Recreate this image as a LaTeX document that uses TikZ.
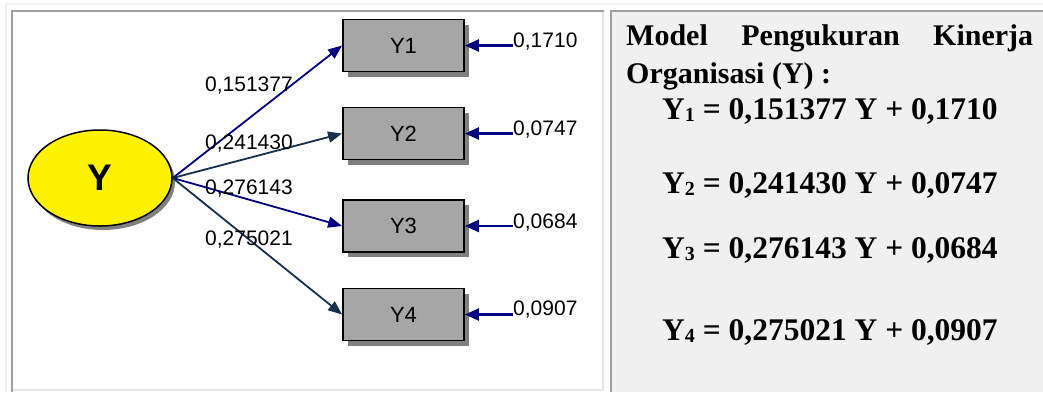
\documentclass[tikz,border=0pt]{standalone}
\usepackage{fontspec}
\setmainfont{Liberation Serif}
\setsansfont{Liberation Sans}
\usetikzlibrary{shadows,arrows.meta,shapes.geometric}
\definecolor{navy}{HTML}{000080}
\definecolor{slate}{HTML}{17304F}
\definecolor{cellgray}{HTML}{F0F0F0}
\definecolor{bordergray}{HTML}{A0A0A0}
\definecolor{lightb}{HTML}{E6E6E6}
\definecolor{boxgray}{HTML}{A6A6A6}
\definecolor{shadowgray}{HTML}{808080}
\tikzset{
  obsbox/.style={draw=black, line width=1.8pt, fill=boxgray, minimum width=121pt, minimum height=52pt, inner sep=0pt,
    font=\sffamily\fontsize{22}{22}\selectfont,
    drop shadow={shadow xshift=5pt, shadow yshift=-5pt, fill=shadowgray, opacity=1}},
  latent/.style={draw=black, line width=1.5pt, fill=yellow, ellipse, minimum width=144pt, minimum height=96pt, inner sep=0pt,
    font=\sffamily\bfseries\fontsize{37}{37}\selectfont,
    drop shadow={shadow xshift=3pt, shadow yshift=-4pt, fill=shadowgray, opacity=1}},
  loadarrow/.style={line width=1.8pt, -{Triangle[length=14pt,width=11pt]}},
  errarrow/.style={line width=2.3pt, navy, -{Triangle[length=14pt,width=12pt]}},
  coef/.style={font=\sffamily\fontsize{21}{21}\selectfont, anchor=base west, inner sep=0pt},
  errlab/.style={font=\sffamily\fontsize{21}{21}\selectfont, anchor=base west, inner sep=0pt},
  eqtext/.style={font=\bfseries\fontsize{31.5}{31.5}\selectfont, anchor=base west, inner sep=0pt},
  titletext/.style={font=\bfseries\fontsize{30}{30}\selectfont, anchor=base west, inner sep=0pt},
}
\newcommand{\subd}[1]{\raisebox{-2pt}{\fontsize{20}{20}\selectfont #1}}
\begin{document}
\begin{tikzpicture}[x=1pt,y=-1pt]
\useasboundingbox (0,0) rectangle (1043,392);
% outer background
\fill[white] (0,0) rectangle (1043,392);
\draw[cellgray, line width=2pt] (6,4) -- (1043,4);
\draw[cellgray, line width=2pt] (6,4) -- (6,392);
% left cell
\fill[white] (11,10) rectangle (604,392);
\draw[lightb, line width=2pt] (603,10) -- (603,390) -- (11,390);
\draw[bordergray, line width=2.5pt] (12,392) -- (12,11) -- (604,11);
% right cell
\fill[cellgray] (610,10) rectangle (1043,392);
\draw[bordergray, line width=2.5pt] (611,392) -- (611,11) -- (1043,11);

% latent
\node[latent] (Y) at (100,178) {Y};

% observed
\node[obsbox] (Y1) at (403.5,45.5) {Y1};
\node[obsbox] (Y2) at (403.5,133.5) {Y2};
\node[obsbox] (Y3) at (403.5,226) {Y3};
\node[obsbox] (Y4) at (403.5,314.5) {Y4};

% loadings
\draw[loadarrow, navy] (Y.east) -- (Y1.west);
\draw[loadarrow, slate] (Y.east) -- (Y2.west);
\draw[loadarrow, navy] (Y.east) -- (Y3.west);
\draw[loadarrow, slate] (Y.east) -- (Y4.west);

\node[coef] (c1) at (205,91) {0,151377};
\node[coef] (c2) at (205,149) {0,241430};
\node[coef] (c3) at (205,194) {0,276143};
\node[coef] (c4) at (205,245) {0,275021};

% errors
\coordinate (e1) at (513,45.5);
\coordinate (e2) at (513,133.5);
\coordinate (e3) at (513,226);
\coordinate (e4) at (513,314.5);
\draw[errarrow] (e1) -- (Y1.east);
\draw[errarrow] (e2) -- (Y2.east);
\draw[errarrow] (e3) -- (Y3.east);
\draw[errarrow] (e4) -- (Y4.east);
\node[errlab] (l1) at (513,47) {0,1710};
\node[errlab] (l2) at (513,135) {0,0747};
\node[errlab] (l3) at (513,228) {0,0684};
\node[errlab] (l4) at (513,315) {0,0907};

% right text
\node[titletext] (t1) at (626,45) {\makebox[407pt][l]{Model\hfill Pengukuran\hfill Kinerja}};
\node[titletext] (t2) at (626,83) {Organisasi (Y) :};
\node[eqtext] (q1) at (662,119) {Y\subd{1} = 0,151377 Y + 0,1710};
\node[eqtext] (q2) at (662,193) {Y\subd{2} = 0,241430 Y + 0,0747};
\node[eqtext] (q3) at (662,258) {Y\subd{3} = 0,276143 Y + 0,0684};
\node[eqtext] (q4) at (662,340) {Y\subd{4} = 0,275021 Y + 0,0907};
\end{tikzpicture}
\end{document}
